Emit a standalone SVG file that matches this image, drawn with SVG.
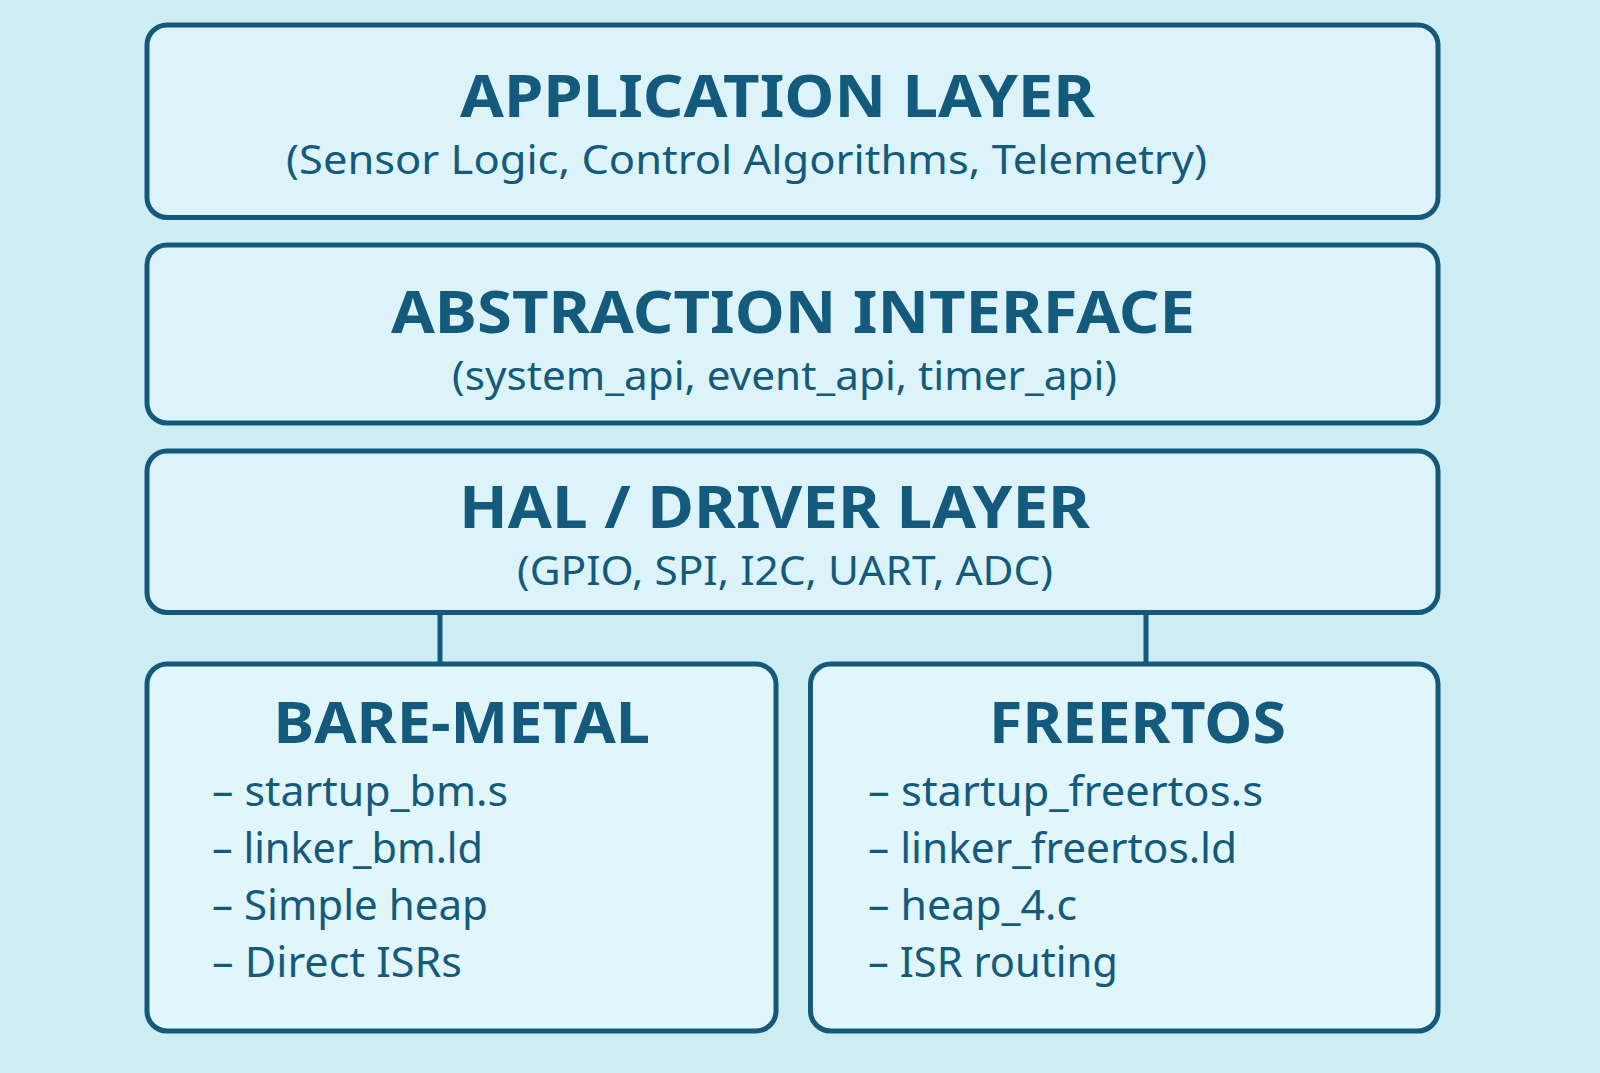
<svg xmlns="http://www.w3.org/2000/svg" width="1600" height="1073" viewBox="0 0 1600 1073">
  <style>
    .box { fill: #dcf4f9; stroke: #14587b; stroke-width: 5; }
    .boxl { fill: #e0f6fb; stroke: #14587b; stroke-width: 5; }
    .conn { stroke: #14587b; stroke-width: 5; fill: none; }
    text { fill: #135a7d; font-family: "Noto Sans", "Open Sans", "Liberation Sans", sans-serif; }
    .h { font-size: 60px; font-weight: bold; }
    .h2 { font-size: 58px; font-weight: bold; }
    .s { font-size: 40px; }
    .i { font-size: 42px; }
  </style>
  <rect x="0" y="0" width="1600" height="1073" fill="#cdedf2"/>
  <g id="connectors">
    <line class="conn" x1="440" y1="612" x2="440" y2="664"/>
    <line class="conn" x1="1146" y1="612" x2="1146" y2="664"/>
  </g>
  <g id="application-layer">
    <rect class="box" x="147" y="25" width="1291" height="192.5" rx="20"/>
    <text class="h" x="460" y="117" textLength="635" lengthAdjust="spacingAndGlyphs">APPLICATION LAYER</text>
    <text class="s" x="286" y="173.5" textLength="921" lengthAdjust="spacingAndGlyphs">(Sensor Logic, Control Algorithms, Telemetry)</text>
  </g>
  <g id="abstraction-interface">
    <rect class="box" x="147" y="245" width="1291" height="178" rx="20"/>
    <text class="h" x="391" y="332.5" textLength="804" lengthAdjust="spacingAndGlyphs">ABSTRACTION INTERFACE</text>
    <text class="s" x="452" y="390" textLength="665" lengthAdjust="spacingAndGlyphs">(system_api, event_api, timer_api)</text>
  </g>
  <g id="hal-driver-layer">
    <rect class="box" x="147" y="451" width="1291" height="161.5" rx="20"/>
    <text class="h" x="459" y="528" textLength="631" lengthAdjust="spacingAndGlyphs">HAL / DRIVER LAYER</text>
    <text class="s" x="517" y="585" textLength="536" lengthAdjust="spacingAndGlyphs">(GPIO, SPI, I2C, UART, ADC)</text>
  </g>
  <g id="bare-metal">
    <rect class="boxl" x="147" y="664" width="629" height="367" rx="20"/>
    <text class="h2" x="273.5" y="743" textLength="376.5" lengthAdjust="spacingAndGlyphs">BARE-METAL</text>
    <text class="i" x="212" y="806" textLength="296" lengthAdjust="spacingAndGlyphs">– startup_bm.s</text>
    <text class="i" x="212" y="863" textLength="271" lengthAdjust="spacingAndGlyphs">– linker_bm.ld</text>
    <text class="i" x="212" y="920" textLength="276" lengthAdjust="spacingAndGlyphs">– Simple heap</text>
    <text class="i" x="212" y="977" textLength="250" lengthAdjust="spacingAndGlyphs">– Direct ISRs</text>
  </g>
  <g id="freertos">
    <rect class="boxl" x="810.5" y="664" width="627.5" height="367" rx="20"/>
    <text class="h2" x="989" y="743" textLength="297" lengthAdjust="spacingAndGlyphs">FREERTOS</text>
    <text class="i" x="868" y="806" textLength="395" lengthAdjust="spacingAndGlyphs">– startup_freertos.s</text>
    <text class="i" x="868" y="863" textLength="369" lengthAdjust="spacingAndGlyphs">– linker_freertos.ld</text>
    <text class="i" x="868" y="920" textLength="209" lengthAdjust="spacingAndGlyphs">– heap_4.c</text>
    <text class="i" x="868" y="977" textLength="250" lengthAdjust="spacingAndGlyphs">– ISR routing</text>
  </g>
</svg>
